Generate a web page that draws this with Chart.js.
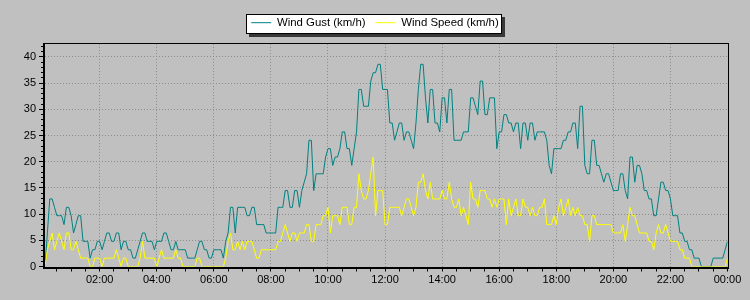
<!DOCTYPE html>
<html>
<head>
<meta charset="utf-8">
<script src="https://cdn.jsdelivr.net/npm/chart.js@4/dist/chart.umd.min.js"></script>
<style>
html,body{margin:0;padding:0;background:#c0c0c0;}
canvas{display:block;}
</style>
</head>
<body>
<canvas id="c" width="750" height="300"></canvas>
<script>
// Categories: 5-minute readings from 00:05 to 24:00 (minutes after midnight)
const minutes = Array.from({length: 288}, (_, i) => 5 * (i + 1));

const seriesNames = ['Wind Gust (km/h)', 'Wind Speed (km/h)'];

const windGust = [
  0, 6.4, 12.9, 12.9, 11.3, 9.7, 9.7, 9.7, 8, 11.3,
  11.3, 9.7, 6.4, 8, 9.7, 9.7, 4.8, 4.8, 4.8, 1.6,
  3.2, 3.2, 4.8, 4.8, 3.2, 4.8, 6.4, 6.4, 4.8, 4.8,
  6.4, 6.4, 3.2, 4.8, 4.8, 3.2, 3.2, 1.6, 1.6, 3.2,
  4.8, 6.4, 6.4, 4.8, 4.8, 4.8, 3.2, 4.8, 4.8, 4.8,
  6.4, 6.4, 4.8, 3.2, 3.2, 4.8, 3.2, 3.2, 3.2, 3.2,
  1.6, 1.6, 1.6, 1.6, 3.2, 4.8, 4.8, 3.2, 3.2, 1.6,
  1.6, 3.2, 3.2, 3.2, 3.2, 1.6, 4.8, 6.4, 11.3, 11.3,
  6.4, 11.3, 11.3, 11.3, 11.3, 9.7, 9.7, 11.3, 11.3, 8,
  8, 8, 8, 6.4, 6.4, 6.4, 6.4, 6.4, 11.3, 11.3,
  11.3, 14.5, 14.5, 11.3, 11.3, 14.5, 14.5, 11.3, 14.5, 16.1,
  17.7, 24.1, 24.1, 14.5, 17.7, 17.7, 17.7, 17.7, 20.9, 22.5,
  22.5, 19.3, 20.9, 20.9, 22.5, 25.7, 25.7, 22.5, 22.5, 19.3,
  22.5, 25.7, 33.8, 33.8, 30.6, 30.6, 30.6, 35.4, 37, 37,
  38.6, 38.6, 33.8, 33.8, 33.8, 27.4, 27.4, 24.1, 25.7, 27.4,
  27.4, 24.1, 25.7, 25.7, 24.1, 22.5, 27.4, 33.8, 38.6, 38.6,
  32.2, 27.4, 33.8, 33.8, 27.4, 27.4, 25.7, 32.2, 32.2, 27.4,
  33.8, 33.8, 24.1, 24.1, 24.1, 24.1, 25.7, 25.7, 25.7, 32.2,
  32.2, 30.6, 29, 35.4, 35.4, 29, 29, 32.2, 32.2, 32.2,
  22.5, 25.7, 25.7, 29, 29, 27.4, 27.4, 25.7, 27.4, 27.4,
  22.5, 27.4, 27.4, 24.1, 27.4, 27.4, 24.1, 25.7, 25.7, 25.7,
  25.7, 24.1, 19.3, 17.7, 22.5, 22.5, 22.5, 22.5, 24.1, 24.1,
  25.7, 25.7, 27.4, 27.4, 22.5, 30.6, 30.6, 19.3, 17.7, 17.7,
  24.1, 24.1, 19.3, 19.3, 17.7, 16.1, 17.7, 17.7, 16.1, 14.5,
  14.5, 14.5, 17.7, 17.7, 14.5, 12.9, 20.9, 20.9, 16.1, 19.3,
  19.3, 17.7, 14.5, 14.5, 12.9, 12.9, 9.7, 9.7, 12.9, 16.1,
  16.1, 14.5, 14.5, 12.9, 9.7, 9.7, 9.7, 6.4, 6.4, 4.8,
  4.8, 3.2, 3.2, 1.6, 1.6, 1.6, 0, 0, 0, 0,
  0, 1.6, 1.6, 1.6, 1.6, 1.6, 3.2, 4.8
];

const windSpeed = [
  0, 3.2, 4.8, 6.4, 3.2, 4.8, 6.4, 4.8, 3.2, 6.4,
  6.4, 3.2, 3.2, 4.8, 3.2, 1.6, 1.6, 1.6, 1.6, 0,
  0, 1.6, 1.6, 1.6, 0, 1.6, 1.6, 1.6, 1.6, 1.6,
  3.2, 1.6, 0, 1.6, 1.6, 0, 0, 0, 0, 0,
  1.6, 4.8, 1.6, 1.6, 1.6, 1.6, 1.6, 0, 1.6, 3.2,
  1.6, 1.6, 1.6, 1.6, 1.6, 3.2, 1.6, 1.6, 0, 0,
  0, 0, 0, 0, 1.6, 1.6, 0, 0, 0, 0,
  0, 0, 0, 0, 0, 0, 1.6, 4.8, 6.4, 3.2,
  3.2, 4.8, 3.2, 4.8, 3.2, 4.8, 4.8, 4.8, 3.2, 1.6,
  1.6, 3.2, 3.2, 3.2, 3.2, 3.2, 3.2, 3.2, 4.8, 4.8,
  6.4, 8, 6.4, 4.8, 6.4, 6.4, 4.8, 6.4, 6.4, 6.4,
  8, 8, 4.8, 4.8, 8, 8, 8, 9.7, 9.7, 11.3,
  6.4, 9.7, 9.7, 9.7, 8, 11.3, 11.3, 11.3, 8, 8,
  11.3, 11.3, 17.7, 14.5, 12.9, 12.9, 14.5, 17.7, 20.9, 9.7,
  14.5, 14.5, 14.5, 8, 8, 11.3, 11.3, 11.3, 11.3, 11.3,
  9.7, 11.3, 12.9, 12.9, 11.3, 9.7, 11.3, 16.1, 16.1, 17.7,
  14.5, 12.9, 16.1, 12.9, 12.9, 12.9, 12.9, 14.5, 12.9, 12.9,
  16.1, 12.9, 11.3, 11.3, 12.9, 9.7, 11.3, 9.7, 8, 16.1,
  12.9, 12.9, 11.3, 14.5, 14.5, 14.5, 12.9, 12.9, 11.3, 12.9,
  11.3, 12.9, 12.9, 12.9, 8, 12.9, 9.7, 11.3, 12.9, 9.7,
  9.7, 12.9, 11.3, 11.3, 9.7, 11.3, 9.7, 9.7, 11.3, 11.3,
  12.9, 8, 8, 8, 9.7, 8, 11.3, 12.9, 9.7, 11.3,
  12.9, 9.7, 11.3, 9.7, 11.3, 9.7, 9.7, 8, 8, 4.8,
  9.7, 9.7, 8, 8, 8, 8, 8, 8, 8, 6.4,
  6.4, 6.4, 6.4, 8, 4.8, 8, 11.3, 9.7, 9.7, 8,
  6.4, 6.4, 6.4, 6.4, 4.8, 4.8, 3.2, 6.4, 8, 6.4,
  6.4, 8, 6.4, 4.8, 4.8, 4.8, 4.8, 3.2, 3.2, 1.6,
  1.6, 1.6, 0, 0, 0, 0, 0, 0, 0, 0,
  0, 0, 0, 0, 0, 0, 0, 1.6
];

const xTickMinutes = [120, 240, 360, 480, 600, 720, 840, 960, 1080, 1200, 1320, 1440];
const xTickLabels = ['02:00', '04:00', '06:00', '08:00', '10:00', '12:00', '14:00', '16:00', '18:00', '20:00', '22:00', '00:00'];
const yTickValues = [0, 5, 10, 15, 20, 25, 30, 35, 40];

Chart.defaults.font.family = "'Liberation Sans', Arial, sans-serif";
Chart.defaults.font.size = 11;
Chart.defaults.color = '#000';

const framePlugin = {
  id: 'framePlugin',
  beforeDraw(chart) {
    const {ctx, width, height} = chart;
    ctx.save();
    ctx.fillStyle = '#c0c0c0';
    ctx.fillRect(0, 0, width, height);
    const hb = chart.legend && chart.legend.legendHitBoxes;
    if (hb && hb.length) {
      const last = hb[hb.length - 1];
      const x0 = Math.round(hb[0].left) - 5;
      const x1 = Math.round(last.left + last.width) + 3;
      const y0 = Math.round(hb[0].top) - 3;
      const y1 = Math.round(hb[0].top + hb[0].height) + 6;
      ctx.fillStyle = '#383838';
      ctx.fillRect(x0 + 3, y0 + 3, x1 - x0, y1 - y0);
      ctx.fillStyle = '#ffffff';
      ctx.fillRect(x0, y0, x1 - x0, y1 - y0);
      ctx.strokeStyle = '#000';
      ctx.lineWidth = 1;
      ctx.strokeRect(x0 + 0.5, y0 + 0.5, x1 - x0 - 1, y1 - y0 - 1);
    }
    ctx.restore();
  },
  afterDraw(chart) {
    const {ctx, chartArea: a, scales} = chart;
    const L = Math.round(a.left) - 2;
    const T = Math.floor(a.top);
    const R = Math.ceil(a.right);
    const B = Math.ceil(a.bottom);
    ctx.save();
    ctx.fillStyle = '#000';
    ctx.fillRect(L, T, R - L + 1, 1);
    ctx.fillRect(L, T, 2, B - T + 2);
    ctx.fillRect(R, T, 1, B - T + 2);
    ctx.fillRect(L, B, R - L + 1, 2);
    // minor y ticks every 1 unit
    ctx.strokeStyle = '#000';
    ctx.lineWidth = 1;
    ctx.beginPath();
    const ys = scales.y;
    for (let v = 1; v < ys.max; v++) {
      if (v % 5 === 0) continue;
      const y = Math.round(ys.getPixelForValue(v) - 0.5) + 0.5;
      ctx.moveTo(L - 2, y);
      ctx.lineTo(L, y);
    }
    ctx.stroke();
    ctx.restore();
  }
};

new Chart(document.getElementById('c'), {
  type: 'line',
  data: {
    labels: minutes,
    datasets: [
      {
        label: seriesNames[0],
        data: windGust,
        borderColor: '#008080',
        backgroundColor: '#008080',
        borderWidth: 1,
        pointRadius: 0,
        tension: 0,
        fill: false,
        order: 1,
        xAxisID: 'x',
        yAxisID: 'y'
      },
      {
        label: seriesNames[1],
        data: windSpeed,
        borderColor: '#ffff00',
        backgroundColor: '#ffff00',
        borderWidth: 1,
        pointRadius: 0,
        tension: 0,
        fill: false,
        order: 0,
        xAxisID: 'x',
        yAxisID: 'y'
      }
    ]
  },
  options: {
    responsive: false,
    animation: false,
    events: [],
    layout: {padding: {top: 7, left: 0, right: 0, bottom: 0}},
    plugins: {
      tooltip: {enabled: false},
      legend: {
        display: true,
        position: 'top',
        align: 'center',
        labels: {
          usePointStyle: true,
          pointStyle: 'line',
          pointStyleWidth: 20,
          boxWidth: 20,
          padding: 10,
          color: '#000',
          font: {size: 11.4},
          sort: (a, b) => a.datasetIndex - b.datasetIndex
        }
      }
    },
    scales: {
      x: {
        type: 'linear',
        position: 'bottom',
        min: 5,
        max: 1440,
        bounds: 'data',
        afterBuildTicks: (s) => {
          const t = [];
          for (let m = 30; m <= 1440; m += 30) t.push({value: m});
          s.ticks = t;
        },
        afterFit: (s) => { s.height = 33.5; },
        ticks: {
          autoSkip: false,
          maxRotation: 0,
          minRotation: 0,
          padding: 2,
          color: '#000',
          callback: (v) => {
            const k = xTickMinutes.indexOf(v);
            return k >= 0 ? xTickLabels[k] : '';
          }
        },
        grid: {
          color: (ctx) => (ctx.tick && ctx.tick.value % 120 === 0 && ctx.tick.value < 1440) ? '#8c8c8c' : 'rgba(0,0,0,0)',
          lineWidth: 1,
          tickColor: '#000',
          tickLength: 5,
          drawTicks: true
        },
        border: {display: false, dash: [1, 2]}
      },
      y: {
        type: 'linear',
        position: 'left',
        min: 0,
        max: 42.5,
        bounds: 'data',
        afterBuildTicks: (s) => { s.ticks = yTickValues.map(v => ({value: v})); },
        afterFit: (s) => { s.width = 45; },
        ticks: {
          padding: 3,
          color: '#000',
          callback: (v) => String(v)
        },
        grid: {
          color: (ctx) => (ctx.tick && ctx.tick.value > 0) ? '#8c8c8c' : 'rgba(0,0,0,0)',
          lineWidth: 1,
          tickColor: '#000',
          tickLength: 6,
          drawTicks: true
        },
        border: {display: false, dash: [1, 2]}
      },
      xTop: {
        type: 'linear',
        axis: 'x',
        position: 'top',
        display: true,
        grid: {display: false, drawTicks: false},
        ticks: {display: false},
        border: {display: false},
        afterFit: (s) => { s.height = 5.5; }
      },
      yRight: {
        type: 'linear',
        axis: 'y',
        position: 'right',
        display: true,
        grid: {display: false, drawTicks: false},
        ticks: {display: false},
        border: {display: false},
        afterFit: (s) => { s.width = 22.5; }
      }
    }
  },
  plugins: [framePlugin]
});
</script>
</body>
</html>
